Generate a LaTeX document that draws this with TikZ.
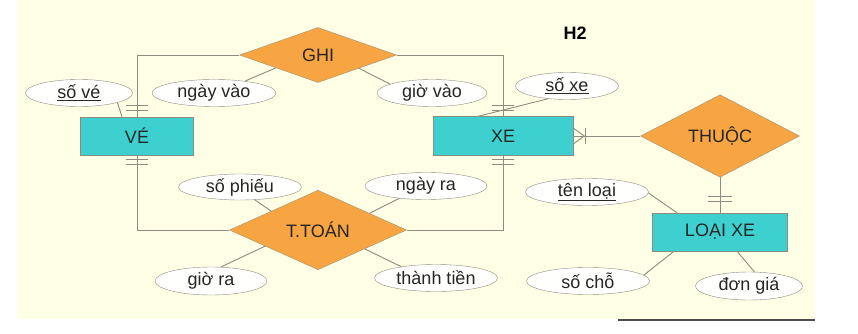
\documentclass[tikz,border=0pt]{standalone}
\usepackage{fontspec}
\setmainfont{Liberation Sans}
\usetikzlibrary{shapes.geometric}

\definecolor{nen}{HTML}{FFFFE6}
\definecolor{xanh}{HTML}{3ECFCF}
\definecolor{cam}{HTML}{F7A443}
\definecolor{vien}{HTML}{8C8C80}
\definecolor{chu}{HTML}{262626}

\tikzset{
  thucthe/.style={draw=vien, fill=xanh, rectangle, inner sep=0pt, text=chu},
  moiqh/.style={draw=vien!80!cam, fill=cam, diamond, inner sep=0pt, text=chu},
  thuoctinh/.style={draw=vien, fill=white!96!nen, ellipse, inner sep=0pt, text=chu},
  lienket/.style={draw=vien, line width=0.9pt},
}

\begin{document}
\begin{tikzpicture}[x=1pt, y=-1pt, font=\fontsize{18}{20}\selectfont]
            \useasboundingbox (0,0) rectangle (858,334);
            % Nen
            \fill[nen] (17,0) rectangle (815,319);
            \draw[black!70, line width=1.2pt] (618,320) -- (815,320);
            \node[font=\fontsize{18}{20}\selectfont\bfseries] (h2) at (575,33) {H2};

            % Thuc the
            \node[thucthe, minimum width=113pt, minimum height=38pt] (ve) at (137,136) {VÉ};
            \node[thucthe, minimum width=140pt, minimum height=39pt] (xe) at (503,136) {XE};
            \node[thucthe, minimum width=135pt, minimum height=38pt] (loaixe) at (720,232) {LOẠI XE};

            % Moi quan he
            \node[moiqh, minimum width=157pt, minimum height=55pt] (ghi) at (318,55) {GHI};
            \node[moiqh, minimum width=159pt, minimum height=55pt] (thuoc) at (720,136) {THUỘC};
            \node[moiqh, minimum width=177pt, minimum height=58pt] (ttoan) at (318,230) {T.TOÁN};

            % Thuoc tinh
            \node[thuoctinh, minimum width=107pt, minimum height=27pt] (sove) at (79,93) {\underline{số vé}};
            \node[thuoctinh, minimum width=124pt, minimum height=27pt] (ngayvao) at (214,93) {ngày vào};
            \node[thuoctinh, minimum width=110pt, minimum height=27pt] (giovao) at (432,93) {giờ vào};
            \node[thuoctinh, minimum width=103pt, minimum height=27pt] (soxe) at (567,86) {\underline{số xe}};
            \node[thuoctinh, minimum width=123pt, minimum height=26pt] (sophieu) at (240,187) {số phiếu};
            \node[thuoctinh, minimum width=122pt, minimum height=27pt] (ngayra) at (426,186) {ngày ra};
            \node[thuoctinh, minimum width=112pt, minimum height=28pt] (giora) at (211,281) {giờ ra};
            \node[thuoctinh, minimum width=123pt, minimum height=27pt] (thanhtien) at (436,278) {thành tiền};
            \node[thuoctinh, minimum width=123pt, minimum height=27pt] (tenloai) at (587,192) {\underline{tên loại}};
            \node[thuoctinh, minimum width=123pt, minimum height=27pt] (socho) at (588,281) {số chỗ};
            \node[thuoctinh, minimum width=107pt, minimum height=28pt] (dongia) at (749,286) {đơn giá};

            % Lien ket thuoc tinh
            \draw[lienket] (sove.-14) -- ([xshift=-15pt]ve.north);
            \draw[lienket] (ngayvao.21) -- (ghi.-163);
            \draw[lienket] (giovao.168) -- (ghi.-18);
            \draw[lienket] (soxe.-146) -- ([xshift=-25pt]xe.north);
            \draw[lienket] (sophieu.-41) -- (ttoan.158);
            \draw[lienket] (ngayra.-155) -- (ttoan.18);
            \draw[lienket] (giora.55) -- (ttoan.-163);
            \draw[lienket] (thanhtien.162) -- (ttoan.-22);
            \draw[lienket] (tenloai.-1) -- ([xshift=-43pt]loaixe.north);
            \draw[lienket] (socho.6) -- ([xshift=-46pt]loaixe.south);
            \draw[lienket] (dongia.69) -- ([xshift=17pt]loaixe.south);

            % Lien ket quan he
            \draw[lienket] (ghi.west) -| (ve.north);
            \draw[lienket] (ghi.east) -| (xe.north);
            \draw[lienket] (ve.south) |- (ttoan.west);
            \draw[lienket] (xe.south) |- (ttoan.east);
            \draw[lienket] (xe.east) -- (thuoc.west);
            \draw[lienket] (thuoc.south) -- (loaixe.north);

            % Hai gach (mot)
            \foreach \d in {6,11} {
                \draw[lienket] ([xshift=-11pt,yshift=\d pt]ve.north) -- ([xshift=11pt,yshift=\d pt]ve.north);
                \draw[lienket] ([xshift=-11pt,yshift=-\d pt+2pt]ve.south) -- ([xshift=11pt,yshift=-\d pt+2pt]ve.south);
                \draw[lienket] ([xshift=-11pt,yshift=\d pt]xe.north) -- ([xshift=11pt,yshift=\d pt]xe.north);
                \draw[lienket] ([xshift=-11pt,yshift=-\d pt+2pt]xe.south) -- ([xshift=11pt,yshift=-\d pt+2pt]xe.south);
                \draw[lienket] ([xshift=-12pt,yshift=\d pt+5pt]loaixe.north) -- ([xshift=12pt,yshift=\d pt+5pt]loaixe.north);
            }

            % Chan ga (nhieu)
            \draw[lienket] ([yshift=8pt]xe.east) -- ([xshift=11pt]xe.east) -- ([yshift=-8pt]xe.east);
            \draw[lienket] ([xshift=12pt,yshift=8pt]xe.east) -- ([xshift=12pt,yshift=-8pt]xe.east);
\end{tikzpicture}
\end{document}
